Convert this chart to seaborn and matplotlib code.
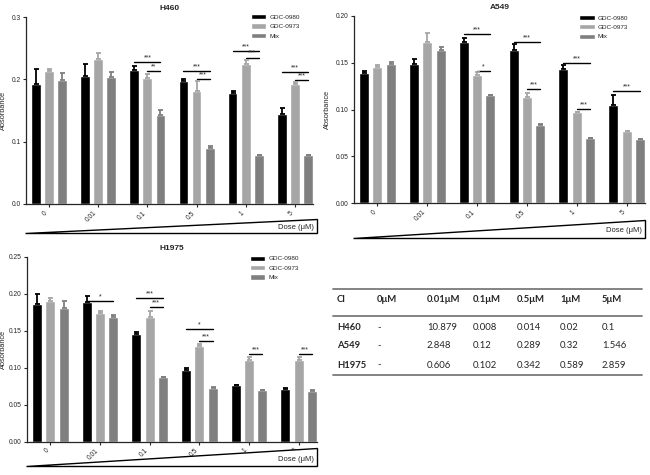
import matplotlib
matplotlib.use("Agg")
import matplotlib.pyplot as plt
from matplotlib.patches import Polygon
from matplotlib.lines import Line2D
from matplotlib.ticker import FormatStrFormatter
import seaborn as sns
import pandas as pd

doses = ["0", "0.01", "0.1", "0.5", "1", "5"]
drugs = ["GDC-0980", "GDC-0973", "Mix"]
colors = ["#000000", "#a6a6a6", "#7f7f7f"]

# H460 absorbance (mean, upper error)
h460_gdc0980 = [0.193, 0.206, 0.215, 0.198, 0.178, 0.144]
h460_gdc0980_err = [0.024, 0.019, 0.006, 0.002, 0.004, 0.010]
h460_gdc0973 = [0.213, 0.233, 0.202, 0.182, 0.224, 0.193]
h460_gdc0973_err = [0.003, 0.009, 0.006, 0.016, 0.007, 0.002]
h460_mix = [0.199, 0.204, 0.143, 0.090, 0.078, 0.078]
h460_mix_err = [0.011, 0.007, 0.008, 0.003, 0.001, 0.001]

# A549
a549_gdc0980 = [0.139, 0.149, 0.172, 0.164, 0.143, 0.105]
a549_gdc0980_err = [0.002, 0.005, 0.004, 0.006, 0.005, 0.010]
a549_gdc0973 = [0.145, 0.172, 0.137, 0.113, 0.097, 0.077]
a549_gdc0973_err = [0.003, 0.010, 0.003, 0.005, 0.0005, 0.0005]
a549_mix = [0.149, 0.164, 0.115, 0.083, 0.069, 0.068]
a549_mix_err = [0.002, 0.003, 0.0005, 0.001, 0.0005, 0.0005]

# H1975
h1975_gdc0980 = [0.186, 0.189, 0.145, 0.097, 0.076, 0.071]
h1975_gdc0980_err = [0.014, 0.008, 0.003, 0.003, 0.001, 0.001]
h1975_gdc0973 = [0.190, 0.174, 0.168, 0.130, 0.111, 0.111]
h1975_gdc0973_err = [0.004, 0.002, 0.009, 0.002, 0.003, 0.003]
h1975_mix = [0.181, 0.168, 0.087, 0.073, 0.070, 0.069]
h1975_mix_err = [0.009, 0.003, 0.001, 0.001, 0.0005, 0.0005]

# significance: (dose index, from drug, to drug, line height, label)
h460_sig = [(2, 0, 2, 0.228, "***"), (2, 1, 2, 0.213, "**"),
            (3, 0, 2, 0.213, "***"), (3, 1, 2, 0.201, "***"),
            (4, 0, 2, 0.245, "***"), (4, 1, 2, 0.235, "***"),
            (5, 0, 2, 0.211, "***"), (5, 1, 2, 0.199, "***")]
a549_sig = [(2, 0, 2, 0.181, "***"), (2, 1, 2, 0.141, "*"),
            (3, 0, 2, 0.1725, "***"), (3, 1, 2, 0.122, "***"),
            (4, 0, 2, 0.150, "***"), (4, 1, 2, 0.1007, "***"),
            (5, 0, 2, 0.1196, "***")]
h1975_sig = [(1, 0, 2, 0.1905, "*"),
             (2, 0, 2, 0.1946, "***"), (2, 1, 2, 0.182, "***"),
             (3, 0, 2, 0.152, "*"), (3, 1, 2, 0.1365, "***"),
             (4, 1, 2, 0.119, "***"), (5, 1, 2, 0.118, "***")]

# combination index table
ci_header = ["CI", "0\u03bcM", "0.01\u03bcM", "0.1\u03bcM", "0.5\u03bcM", "1\u03bcM", "5\u03bcM"]
ci_lines = ["H460", "A549", "H1975"]
ci_h460 = ["-", "10.879", "0.008", "0.014", "0.02", "0.1"]
ci_a549 = ["-", "2.848", "0.12", "0.289", "0.32", "1.546"]
ci_h1975 = ["-", "0.606", "0.102", "0.342", "0.589", "2.859"]

sns.set_style("ticks")
plt.rcParams["font.family"] = ["Liberation Sans", "DejaVu Sans"]


def make_frame(means):
    rows = []
    for drug, vals in zip(drugs, means):
        for dose, v in zip(doses, vals):
            rows.append({"dose": dose, "drug": drug, "absorbance": v})
    return pd.DataFrame(rows)


def draw_panel(ax, title, means, errs, sig, ymax, ystep, yfmt, tri, leg_anchor, lpad=3):
    df = make_frame(means)
    sns.barplot(data=df, x="dose", y="absorbance", hue="drug", order=doses,
                hue_order=drugs, palette=colors, width=0.8, gap=0.25,
                errorbar=None, saturation=1, ax=ax)

    # one-sided error bars
    for cont, err, col in zip(ax.containers, errs, colors):
        xs = [p.get_x() + p.get_width() / 2 for p in cont]
        ys = [p.get_height() for p in cont]
        ax.errorbar(xs, ys, yerr=[[0] * len(err), err], fmt="none", ecolor=col,
                    elinewidth=1.3, capsize=1.8, capthick=1.3, zorder=3)

    # significance lines
    for gi, a, b, y, lab in sig:
        pa = ax.containers[a][gi]
        pb = ax.containers[b][gi]
        xa = pa.get_x() + pa.get_width() / 2
        xb = pb.get_x() + pb.get_width() / 2
        ax.plot([xa, xb], [y, y], color="black", lw=1)
        ax.text((xa + xb) / 2, y + ymax * 0.004, lab, ha="center", va="bottom", fontsize=5)

    ax.set_xlim(-0.47, 5.37)
    ax.set_ylim(0, ymax)
    ax.set_yticks([i * ystep for i in range(int(round(ymax / ystep)) + 1)])
    ax.yaxis.set_major_formatter(FormatStrFormatter(yfmt))
    ax.set_xlabel("")
    ax.set_ylabel("Absorbance", fontsize=5.3, labelpad=lpad)
    ax.set_title(title, fontsize=6, fontweight="bold", pad=5)
    ax.tick_params(labelsize=4.8, length=2.5, width=0.8, pad=1.5)
    plt.setp(ax.get_xticklabels(), rotation=45, ha="right")
    for s in ["left", "bottom"]:
        ax.spines[s].set_linewidth(0.9)
    sns.despine(ax=ax)

    handles, labels = ax.get_legend_handles_labels()
    ax.legend(handles, labels, frameon=False, fontsize=4.6, loc="upper left",
              bbox_to_anchor=leg_anchor, handlelength=2.4, handleheight=0.9,
              labelspacing=0.55, handletextpad=0.5, borderaxespad=0)

    # dose wedge
    yb, yt, ytxt, xr = tri
    wedge = Polygon([(-0.005, yb), (xr, yb), (xr, yt)], closed=True,
                    transform=ax.transAxes, clip_on=False, fc="white", ec="black", lw=1)
    ax.add_patch(wedge)
    ax.text(xr - 0.012, ytxt, "Dose (\u03bcM)", transform=ax.transAxes, ha="right",
            va="center", fontsize=5.5)


fig = plt.figure(figsize=(6.5, 4.75), dpi=100)

ax1 = fig.add_axes([26 / 650, 1 - 204 / 475, 287 / 650, 187 / 475])
draw_panel(ax1, "H460",
           [h460_gdc0980, h460_gdc0973, h460_mix],
           [h460_gdc0980_err, h460_gdc0973_err, h460_mix_err],
           h460_sig, 0.3, 0.1, "%.1f", (-0.155, -0.08, -0.125, 1.015), (0.775, 1.03))

ax2 = fig.add_axes([354 / 650, 1 - 203 / 475, 291 / 650, 187 / 475])
draw_panel(ax2, "A549",
           [a549_gdc0980, a549_gdc0973, a549_mix],
           [a549_gdc0980_err, a549_gdc0973_err, a549_mix_err],
           a549_sig, 0.2, 0.05, "%.2f", (-0.187, -0.091, -0.145, 1.0), (0.765, 1.02))

ax3 = fig.add_axes([27 / 650, 1 - 441.7 / 475, 290 / 650, 185 / 475])
draw_panel(ax3, "H1975",
           [h1975_gdc0980, h1975_gdc0973, h1975_mix],
           [h1975_gdc0980_err, h1975_gdc0973_err, h1975_mix_err],
           h1975_sig, 0.25, 0.05, "%.2f", (-0.131, -0.034, -0.095, 1.0), (0.76, 1.02), lpad=1)

# CI table
col_x = [337, 377, 427, 473, 517, 560, 602]
row_y = [328, 346, 365]
tfont = ["Lato", "DejaVu Sans"]
for x, h in zip(col_x, ci_header):
    fig.text(x / 650, 1 - 300 / 475, h, ha="left", va="center", fontsize=6.8,
             fontweight="bold", family=tfont)
for y, name, vals in zip(row_y, ci_lines, [ci_h460, ci_a549, ci_h1975]):
    fig.text(col_x[0] / 650, 1 - y / 475, name, ha="left", va="center", fontsize=6.8,
             fontweight="bold", family=tfont)
    for x, v in zip(col_x[1:], vals):
        fig.text(x / 650, 1 - y / 475, v, ha="left", va="center", fontsize=6.8,
                 family=tfont)
for y in [289, 316, 375]:
    fig.add_artist(Line2D([333 / 650, 642 / 650], [1 - y / 475, 1 - y / 475],
                          color="#7a7a7a", lw=1.3, transform=fig.transFigure))

fig.savefig("out.png", dpi=100)
